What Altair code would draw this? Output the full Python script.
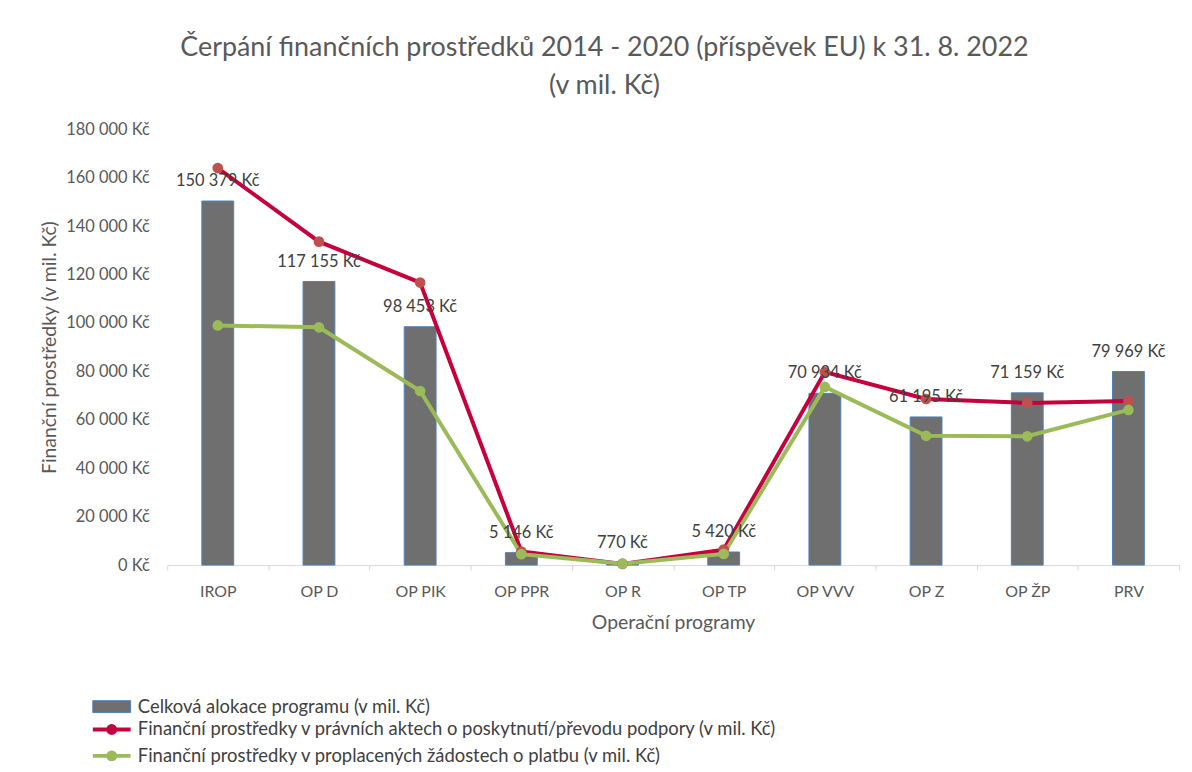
import altair as alt
import pandas as pd

programs = ["IROP", "OP D", "OP PIK", "OP PPR", "OP R", "OP TP", "OP VVV", "OP Z", "OP ŽP", "PRV"]
allocation = [150379, 117155, 98453, 5146, 770, 5420, 70934, 61195, 71159, 79969]
legal_acts = [164000, 133600, 116700, 5600, 500, 6400, 79700, 68600, 67000, 67800]
paid_claims = [99000, 98200, 71900, 4500, 600, 4600, 73600, 53400, 53200, 64100]

bar_name = "Celková alokace programu (v mil. Kč)"
red_name = "Finanční prostředky v právních aktech o poskytnutí/převodu podpory (v mil. Kč)"
green_name = "Finanční prostředky v proplacených žádostech o platbu (v mil. Kč)"

FONT = "Lato"
TXT = "#595959"
LEG = 18.5

def fmt(v):
    return f"{v:,}".replace(",", " ") + " Kč"

bars_df = pd.DataFrame({
    "program": programs,
    "value": allocation,
    "label": [fmt(v) for v in allocation],
    "bseries": [bar_name] * len(programs),
})

lines_df = pd.DataFrame({
    "program": programs * 2,
    "value": legal_acts + paid_claims,
    "series": [red_name] * len(programs) + [green_name] * len(programs),
})

x = alt.X("program:N", sort=programs, title="Operační programy",
          scale=alt.Scale(paddingInner=0.0, paddingOuter=0.0),
          axis=alt.Axis(labelAngle=0, labelFontSize=16, labelColor=TXT, labelFont=FONT,
                        titleFontSize=19.5, titleColor=TXT, titleFont=FONT, titleFontWeight="normal",
                        titlePadding=14, labelPadding=14,
                        domainColor="#d9d9d9", tickColor="#d9d9d9", tickSize=5,
                        tickBand="extent", grid=False))

y = alt.Y("value:Q", title="Finanční prostředky (v mil. Kč)",
          scale=alt.Scale(domain=[0, 180000], nice=False),
          axis=alt.Axis(values=list(range(0, 180001, 20000)),
                        labelExpr="replace(format(datum.value, ',d'), ',', ' ') + ' Kč'",
                        labelFontSize=16.5, labelColor=TXT, labelFont=FONT, labelPadding=18,
                        titleFontSize=19.5, titleColor=TXT, titleFont=FONT, titleFontWeight="normal",
                        titlePadding=6,
                        domain=False, ticks=False, grid=False))

bar_sym = "M-6.6,-1.2H1V1.2H-6.6Z"
line_sym = "M-6.6,0H1M-2.1,0A0.7,0.7 0 1 1 -3.5,0A0.7,0.7 0 1 1 -2.1,0"

bars = alt.Chart(bars_df).mark_bar(size=32, stroke="#4F81BD", strokeWidth=1).encode(
    x=x, y=y,
    color=alt.Color("bseries:N", scale=alt.Scale(domain=[bar_name], range=["#6F6F6F"]),
                    legend=alt.Legend(title=None, orient="none", legendX=-51, legendY=571,
                                      symbolType=bar_sym, symbolSize=100,
                                      symbolStrokeColor="#4F81BD", symbolStrokeWidth=1,
                                      labelFontSize=LEG, labelColor="#404040", labelFont=FONT,
                                      labelOffset=3, padding=0, labelLimit=900)),
)

labels = alt.Chart(bars_df).mark_text(dy=-20, fontSize=16.5, color="#404040", font=FONT,
                                      baseline="middle").encode(
    x=x, y=y, text="label:N")

lines = alt.Chart(lines_df).mark_line(strokeWidth=4).encode(
    x=x, y=y,
    stroke=alt.Stroke("series:N",
                      scale=alt.Scale(domain=[red_name, green_name], range=["#C5003C", "#9BBB59"]),
                      legend=alt.Legend(title=None, orient="none", legendX=-51, legendY=594,
                                        symbolType=line_sym, symbolSize=100, symbolStrokeWidth=4,
                                        labelFontSize=LEG, labelColor="#404040", labelFont=FONT,
                                        labelOffset=3, padding=0, rowPadding=2.5, labelLimit=900)),
)

points = alt.Chart(lines_df).mark_point(filled=True, size=115, opacity=1).encode(
    x=x, y=y,
    fill=alt.Fill("series:N",
                  scale=alt.Scale(domain=[red_name, green_name], range=["#C0504D", "#9BBB59"]),
                  legend=None),
)

chart = alt.layer(bars, lines, points, labels).resolve_scale(
    color="independent"
).properties(
    width=1017, height=438,
    title=alt.Title(["Čerpání finančních prostředků 2014 - 2020 (příspěvek EU) k 31. 8. 2022", "(v mil. Kč)"],
                    fontSize=27, font=FONT, color=TXT, fontWeight="normal",
                    anchor="middle", dx=-69, offset=21, lineHeight=39),
    autosize=alt.AutoSizeParams(type="none"),
    padding={"left": 160, "top": 120, "right": 5, "bottom": 200},
).configure_view(stroke=None).configure_legend(labelFontSize=LEG, labelFont=FONT, labelColor="#404040")

chart.save("out.html", embed_options={"renderer": "svg", "actions": False})
